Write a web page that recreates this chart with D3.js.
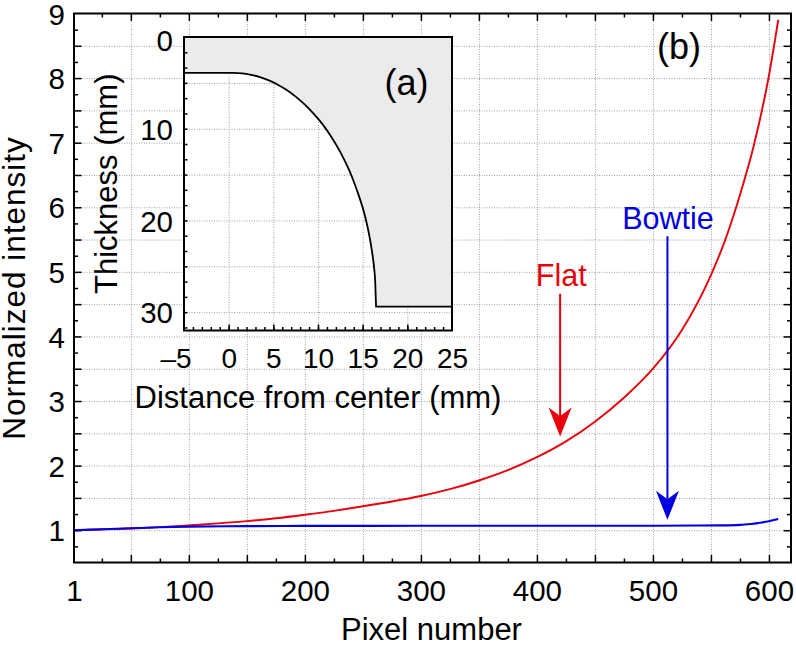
<!DOCTYPE html>
<html><head><meta charset="utf-8">
<script src="https://cdn.jsdelivr.net/npm/d3@7"></script>
<style>
body{margin:0;background:#fff}
text{font-family:"Liberation Sans",Arial,Helvetica,sans-serif;fill:#000}
</style>
</head><body>
<svg id="c" width="796" height="645" xmlns="http://www.w3.org/2000/svg"></svg>
<script>
// ---------- DATA ----------
const flatPixels     = [1, 25, 50, 75, 100, 125, 150, 175, 200, 225, 250, 275, 300, 325, 350, 375, 400, 425, 450, 475, 500, 525, 550, 562, 575, 587, 600, 608];
const flatIntensity  = [1.00, 1.012, 1.027, 1.048, 1.075, 1.105, 1.14, 1.185, 1.24, 1.30, 1.37, 1.445, 1.53, 1.635, 1.77, 1.93, 2.13, 2.375, 2.68, 3.05, 3.50, 4.10, 4.95, 5.48, 6.19, 6.96, 8.04, 8.90];
const bowtiePixels    = [1, 25, 50, 75, 100, 150, 200, 300, 400, 500, 540, 560, 575, 585, 592, 600, 608];
const bowtieIntensity = [1.00, 1.015, 1.03, 1.045, 1.055, 1.063, 1.067, 1.068, 1.07, 1.07, 1.072, 1.075, 1.083, 1.095, 1.115, 1.14, 1.175];

const xTickLabels = [1, 100, 200, 300, 400, 500, 600];
const yTickLabels = [1, 2, 3, 4, 5, 6, 7, 8, 9];

// inset (a): filter thickness profile
const insetDistance  = [-5, 0.5, 1.5, 2.5, 3.5, 4.5, 5.5, 6.5, 7.5, 8.5, 9.5, 10.5, 11.5, 12.5, 13.5, 14, 14.5, 15, 15.5, 16, 16.25, 16.4, 16.5];
const insetThickness = [3.92, 3.92, 3.97, 4.13, 4.37, 4.73, 5.2, 5.78, 6.5, 7.35, 8.35, 9.5, 10.9, 12.55, 14.55, 15.75, 17.1, 18.6, 20.5, 23.1, 24.9, 26.6, 29.4];
const insetEnd = [25, 29.4];
const insetXTickLabels = [-5, 0, 5, 10, 15, 20, 25];
const insetYTickLabels = [0, 10, 20, 30];

// annotations (data units of main plot)
const flatArrow   = {px: 420, from: 4.66, to: 2.45, label: "Flat",   labelPx: 421, labelVal: 4.78};
const bowtieArrow = {px: 512.5, from: 5.55, to: 1.16, label: "Bowtie", labelPx: 513, labelVal: 5.66};
const panelB = {px: 522.5, val: 8.29, text: "(b)"};
const panelA = {x: 19.9, t: 6.36, text: "(a)"};

// ---------- SETUP ----------
const RED = "#e8000b", BLUE = "#0000e0";
const svg = d3.select("#c");
svg.append("rect").attr("width", 796).attr("height", 645).attr("fill", "#fff");

const L = 74, R = 791, T = 13.5, B = 562.5;
const x = d3.scaleLinear().domain([1, 619]).range([L, R]);
const y = d3.scaleLinear().domain([0.5, 9]).range([B, T]);

const gridStyle = g => g.selectAll("line").attr("stroke", "#a0a0a0").attr("stroke-width", 1).attr("stroke-dasharray", "1,1.5");
const noDomain = g => g.select(".domain").remove();
const tickStyle = g => g.selectAll("line").attr("stroke", "#000").attr("stroke-width", 1.5);

// grid
svg.append("g").attr("transform", `translate(0,${B})`)
  .call(d3.axisBottom(x).tickValues(d3.range(50, 601, 50)).tickSize(-(B - T)).tickFormat(""))
  .call(noDomain).call(gridStyle);
svg.append("g").attr("transform", `translate(${L},0)`)
  .call(d3.axisLeft(y).tickValues(d3.range(1, 8.76, 0.5)).tickSize(-(R - L)).tickFormat(""))
  .call(noDomain).call(gridStyle);

// ticks (inward) on all four sides
const xMinor = d3.range(25, 619, 25).filter(v => v % 50 !== 0);
const xMajor = d3.range(50, 619, 50);
const yMinor = d3.range(0.75, 9, 0.5);
const yMajor = d3.range(1, 9, 0.5);
[[d3.axisBottom, B], [d3.axisTop, T]].forEach(([ax, pos]) => {
  svg.append("g").attr("transform", `translate(0,${pos})`)
    .call(ax(x).tickValues(xMinor).tickSize(-4).tickFormat("")).call(noDomain).call(tickStyle);
  svg.append("g").attr("transform", `translate(0,${pos})`)
    .call(ax(x).tickValues(xMajor).tickSize(-7.5).tickFormat("")).call(noDomain).call(tickStyle);
});
[[d3.axisLeft, L], [d3.axisRight, R]].forEach(([ax, pos]) => {
  svg.append("g").attr("transform", `translate(${pos},0)`)
    .call(ax(y).tickValues(yMinor).tickSize(-4).tickFormat("")).call(noDomain).call(tickStyle);
  svg.append("g").attr("transform", `translate(${pos},0)`)
    .call(ax(y).tickValues(yMajor).tickSize(-7.5).tickFormat("")).call(noDomain).call(tickStyle);
});

// tick labels
svg.append("g").attr("transform", `translate(0,${B})`)
  .call(d3.axisBottom(x).tickValues(xTickLabels).tickSize(0).tickPadding(18).tickFormat(d3.format("d")))
  .call(noDomain).selectAll("text").attr("font-size", 29.5).attr("fill", "#000");
svg.append("g").attr("transform", `translate(${L},0)`)
  .call(d3.axisLeft(y).tickValues(yTickLabels).tickSize(0).tickPadding(9).tickFormat(d3.format("d")))
  .call(noDomain).selectAll("text").attr("font-size", 29.5).attr("fill", "#000")
  .attr("dy", "0.36em");

// axis titles
svg.append("text").attr("x", (L + R) / 2 - 1).attr("y", 640).attr("text-anchor", "middle")
  .attr("font-size", 31).text("Pixel number");
svg.append("text").attr("transform", `translate(25,${(T + B) / 2}) rotate(-90)`).attr("text-anchor", "middle")
  .attr("font-size", 31.5).attr("letter-spacing", 1).text("Normalized intensity");

// data
svg.append("clipPath").attr("id", "plotClip").append("rect")
  .attr("x", L).attr("y", T).attr("width", R - L).attr("height", B - T);
const line = d3.line().x(d => x(d[0])).y(d => y(d[1])).curve(d3.curveMonotoneX);
const plotG = svg.append("g").attr("clip-path", "url(#plotClip)");
plotG.append("path").attr("d", line(flatPixels.map((p, i) => [p, flatIntensity[i]])))
  .attr("fill", "none").attr("stroke", RED).attr("stroke-width", 1.9);
plotG.append("path").attr("d", line(bowtiePixels.map((p, i) => [p, bowtieIntensity[i]])))
  .attr("fill", "none").attr("stroke", BLUE).attr("stroke-width", 2.1);

// frame
svg.append("rect").attr("x", L).attr("y", T).attr("width", R - L).attr("height", B - T)
  .attr("fill", "none").attr("stroke", "#000").attr("stroke-width", 2);

// annotations
function arrow(a, color) {
  const ax = x(a.px), y0 = y(a.from), y1 = y(a.to);
  const headLen = 29, headW = 23, notch = 8.5;
  svg.append("line").attr("x1", ax).attr("x2", ax).attr("y1", y0).attr("y2", y1 - headLen + notch)
    .attr("stroke", color).attr("stroke-width", 2);
  svg.append("path")
    .attr("d", `M${ax},${y1} L${ax - headW / 2},${y1 - headLen} L${ax},${y1 - headLen + notch} L${ax + headW / 2},${y1 - headLen} Z`)
    .attr("fill", color);
  svg.append("text").attr("x", x(a.labelPx)).attr("y", y(a.labelVal)).attr("text-anchor", "middle")
    .attr("font-size", 30.5).attr("fill", color).style("fill", color).text(a.label);
}
arrow(flatArrow, RED);
arrow(bowtieArrow, BLUE);
svg.append("text").attr("x", x(panelB.px)).attr("y", y(panelB.val)).attr("text-anchor", "middle")
  .attr("font-size", 36).text(panelB.text);

// ---------- INSET ----------
const iL = 184, iR = 452, iT = 37, iB = 330.5;
const ix = d3.scaleLinear().domain([-5, 25]).range([iL, iR]);
const iy = d3.scaleLinear().domain([0, 32]).range([iT, iB]);
const inset = svg.append("g");
inset.append("rect").attr("x", iL).attr("y", iT).attr("width", iR - iL).attr("height", iB - iT).attr("fill", "#fff");
inset.append("clipPath").attr("id", "insetClip").append("rect")
  .attr("x", iL).attr("y", iT).attr("width", iR - iL).attr("height", iB - iT);
const ig = inset.append("g").attr("clip-path", "url(#insetClip)");
ig.append("g").attr("transform", `translate(0,${iB})`)
  .call(d3.axisBottom(ix).tickValues([0, 5, 10, 15, 20]).tickSize(-(iB - iT)).tickFormat(""))
  .call(noDomain).call(gridStyle);
ig.append("g").attr("transform", `translate(${iL},0)`)
  .call(d3.axisLeft(iy).tickValues([5, 10, 15, 20, 25, 30]).tickSize(-(iR - iL)).tickFormat(""))
  .call(noDomain).call(gridStyle);

const profile = insetDistance.map((d, i) => [d, insetThickness[i]]);
const GRAY = "#ebebeb";
ig.append("path")
  .attr("d", d3.area().x(d => ix(d[0])).y0(iy(0)).y1(d => iy(d[1])).curve(d3.curveMonotoneX)(profile))
  .attr("fill", GRAY);
const last = profile[profile.length - 1];
ig.append("rect").attr("x", ix(last[0])).attr("y", iy(0))
  .attr("width", ix(insetEnd[0]) - ix(last[0])).attr("height", iy(insetEnd[1]) - iy(0)).attr("fill", GRAY);
const pLine = d3.line().x(d => ix(d[0])).y(d => iy(d[1])).curve(d3.curveMonotoneX)(profile);
ig.append("path").attr("d", pLine + `L${ix(insetEnd[0])},${iy(insetEnd[1])}`)
  .attr("fill", "none").attr("stroke", "#000").attr("stroke-width", 1.8);

// inset ticks
inset.append("g").attr("transform", `translate(${iL},0)`)
  .call(d3.axisLeft(iy).tickValues(d3.range(5 / 3, 32, 5 / 3)).tickSize(-3.5).tickFormat(""))
  .call(noDomain).call(tickStyle);
inset.append("g").attr("transform", `translate(0,${iB})`)
  .call(d3.axisBottom(ix).tickValues(d3.range(-4, 25, 1)).tickSize(-3.5).tickFormat(""))
  .call(noDomain).call(tickStyle);
inset.append("g").attr("transform", `translate(0,${iB})`)
  .call(d3.axisBottom(ix).tickValues([0, 5, 10, 15, 20]).tickSize(-6).tickFormat(""))
  .call(noDomain).call(tickStyle);

inset.append("rect").attr("x", iL).attr("y", iT).attr("width", iR - iL).attr("height", iB - iT)
  .attr("fill", "none").attr("stroke", "#000").attr("stroke-width", 2);

inset.append("g").attr("transform", `translate(${iL},0)`)
  .call(d3.axisLeft(iy).tickValues(insetYTickLabels).tickSize(0).tickPadding(11).tickFormat(d3.format("d")))
  .call(noDomain).selectAll("text").attr("font-size", 29.5).attr("fill", "#000")
  .attr("dy", d => d === 0 ? "0.45em" : "0.36em");
inset.append("g").attr("transform", `translate(0,${iB})`)
  .call(d3.axisBottom(ix).tickValues(insetXTickLabels).tickSize(0).tickPadding(18).tickFormat(d => d < 0 ? "\u2013" + Math.abs(d) : String(d)))
  .call(noDomain).selectAll("text").attr("font-size", 28).attr("fill", "#000")
  .attr("dx", d => d < 0 ? "-0.3em" : 0);
inset.append("text").attr("x", (iL + iR) / 2).attr("y", 408).attr("text-anchor", "middle")
  .attr("font-size", 31).text("Distance from center (mm)");
inset.append("text").attr("transform", `translate(117,${(iT + iB) / 2}) rotate(-90)`).attr("text-anchor", "middle")
  .attr("font-size", 31).text("Thickness (mm)");
inset.append("text").attr("x", ix(panelA.x)).attr("y", iy(panelA.t)).attr("text-anchor", "middle")
  .attr("font-size", 36).text(panelA.text);
</script>
</body></html>
